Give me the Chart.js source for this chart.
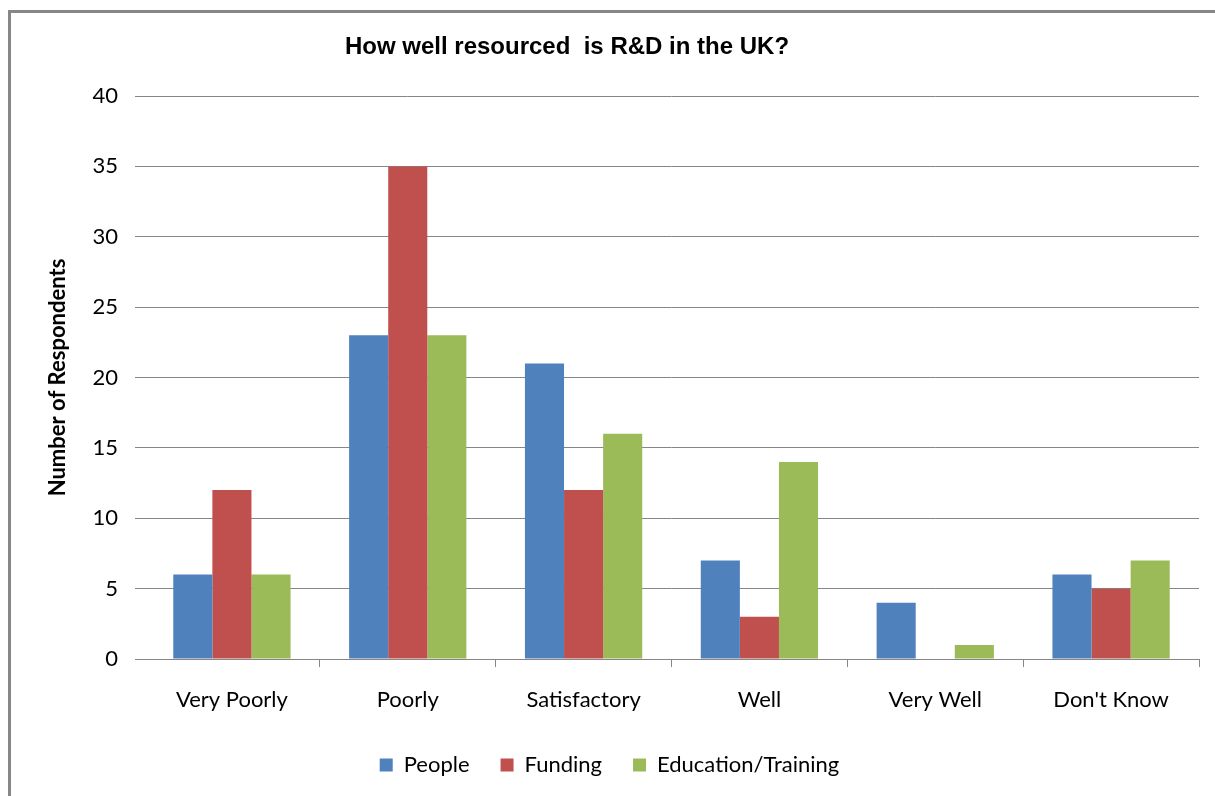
<!DOCTYPE html>
<html>
<head>
<meta charset="utf-8">
<title>R&amp;D resourcing survey</title>
<script src="https://cdn.jsdelivr.net/npm/chart.js@4.4.1/dist/chart.umd.min.js"></script>
<style>
    html, body { margin: 0; padding: 0; background: #fff; overflow: hidden; }
    #frame {
        position: absolute;
        left: 8px;
        top: 10px;
        width: 1400px;
        height: 1000px;
        border-left: 3px solid #878787;
        border-top: 3px solid #878787;
    }
    #wrap { position: absolute; left: 0; top: 0; width: 1215px; height: 796px; }
</style>
</head>
<body>
<div id="frame"></div>
<div id="wrap"><canvas id="resourceChart" width="1215" height="796"></canvas></div>
<script>
// Survey answers: how well resourced is R&D in the UK
const categories = ['Very Poorly', 'Poorly', 'Satisfactory', 'Well', 'Very Well', "Don't Know"];
const people = [6, 23, 21, 7, 4, 6];
const funding = [12, 35, 12, 3, 0, 5];
const education = [6, 23, 16, 14, 1, 7];
const yTicks = [0, 5, 10, 15, 20, 25, 30, 35, 40];

const chartTitle = 'How well resourced  is R&D in the UK?';
const gridGrey = '#868686';
const bodyFont = 'Lato, "Open Sans", sans-serif';

// title is drawn by hand so it can sit left of centre like the original sheet
const titlePlugin = {
    id: 'sheetTitle',
    afterDraw(chart) {
        const c = chart.ctx;
        c.save();
        c.font = 'bold 24px "Liberation Sans", Arial, sans-serif';
        c.fillStyle = '#000';
        c.textAlign = 'center';
        c.textBaseline = 'middle';
        c.fillText(chartTitle, 567, 47);
        c.restore();
    }
};

document.addEventListener('DOMContentLoaded', () => {
    const ctx = document.getElementById('resourceChart');

    new Chart(ctx, {
        type: 'bar',
        data: {
            labels: categories,
            datasets: [
                { label: 'People', data: people, backgroundColor: '#4F81BD' },
                { label: 'Funding', data: funding, backgroundColor: '#C0504D' },
                { label: 'Education/Training', data: education, backgroundColor: '#9BBB59' }
            ]
        },
        options: {
            responsive: false,
            animation: false,
            categoryPercentage: 0.667,
            barPercentage: 1.0,
            layout: {
                padding: { left: 20, right: 16, top: 96, bottom: 10 }
            },
            plugins: {
                legend: {
                    position: 'bottom',
                    labels: {
                        boxWidth: 13,
                        boxHeight: 13,
                        padding: 31,
                        color: '#000',
                        font: { family: bodyFont, size: 22 }
                    }
                },
                tooltip: { enabled: false },
                title: { display: false }
            },
            scales: {
                x: {
                    afterFit: (scale) => { scale.height = 64; },
                    grid: {
                        offset: true,
                        drawOnChartArea: false,
                        drawTicks: true,
                        tickLength: 8,
                        tickColor: (c) => c.index === 0 ? 'rgba(0,0,0,0)' : gridGrey
                    },
                    border: { display: true, color: gridGrey, width: 1 },
                    ticks: {
                        padding: 20,
                        color: '#000',
                        font: { family: bodyFont, size: 22 }
                    }
                },
                y: {
                    min: 0,
                    max: 40,
                    afterFit: (scale) => { scale.width = 124; },
                    afterBuildTicks: (scale) => {
                        scale.ticks = yTicks.map(v => ({ value: v }));
                    },
                    grid: {
                        color: gridGrey,
                        lineWidth: 1,
                        drawTicks: true,
                        tickLength: 9
                    },
                    border: { display: false },
                    ticks: {
                        padding: 17,
                        color: '#000',
                        font: { family: bodyFont, size: 22 }
                    },
                    title: {
                        display: true,
                        text: 'Number of Respondents',
                        color: '#000',
                        padding: { top: 25, bottom: 0 },
                        font: { family: bodyFont, size: 22, weight: 'bold' }
                    }
                }
            }
        },
        plugins: [titlePlugin]
    });
});
</script>
</body>
</html>
